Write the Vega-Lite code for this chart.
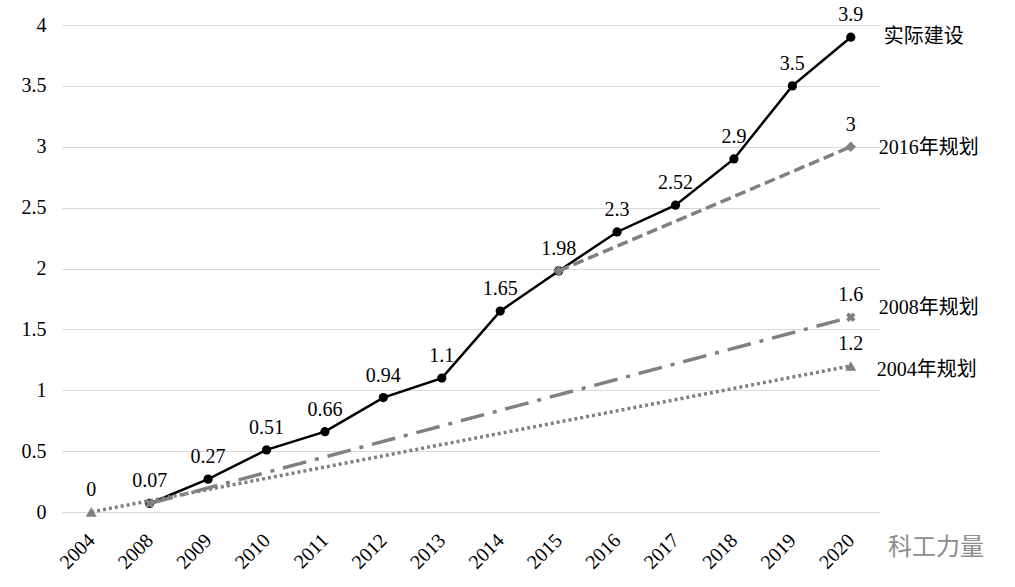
{
  "$schema": "https://vega.github.io/schema/vega-lite/v6.json",
  "autosize": {"type": "none"},
  "padding": {"left": 62, "top": 25, "right": 135, "bottom": 75},
  "width": 818,
  "height": 487,
  "background": "#ffffff",
  "config": {
    "view": {"stroke": null},
    "font": "Liberation Serif",
    "axis": {"labelFont": "Liberation Serif", "labelFontSize": 20, "labelColor": "#000000"}
  },
  "title": {
    "text": "科工力量",
    "orient": "bottom",
    "anchor": "end",
    "frame": "group",
    "dx": 104,
    "offset": -36,
    "font": "Noto Sans CJK SC",
    "fontSize": 24,
    "fontWeight": "normal",
    "color": "#8c8c8c"
  },
  "datasets": {
    "actual": [
      {"series": "实际建设", "year": "2008", "value": 0.07},
      {"series": "实际建设", "year": "2009", "value": 0.27},
      {"series": "实际建设", "year": "2010", "value": 0.51},
      {"series": "实际建设", "year": "2011", "value": 0.66},
      {"series": "实际建设", "year": "2012", "value": 0.94},
      {"series": "实际建设", "year": "2013", "value": 1.1},
      {"series": "实际建设", "year": "2014", "value": 1.65},
      {"series": "实际建设", "year": "2015", "value": 1.98},
      {"series": "实际建设", "year": "2016", "value": 2.3},
      {"series": "实际建设", "year": "2017", "value": 2.52},
      {"series": "实际建设", "year": "2018", "value": 2.9},
      {"series": "实际建设", "year": "2019", "value": 3.5},
      {"series": "实际建设", "year": "2020", "value": 3.9}
    ],
    "plans": [
      {"series": "2016年规划", "year": "2015", "value": 1.98},
      {"series": "2016年规划", "year": "2020", "value": 3},
      {"series": "2008年规划", "year": "2008", "value": 0.07},
      {"series": "2008年规划", "year": "2020", "value": 1.6},
      {"series": "2004年规划", "year": "2004", "value": 0},
      {"series": "2004年规划", "year": "2020", "value": 1.2}
    ]
  },
  "encoding": {
    "x": {
      "field": "year",
      "type": "ordinal",
      "sort": ["2004","2008","2009","2010","2011","2012","2013","2014","2015","2016","2017","2018","2019","2020"],
      "scale": {"type": "point", "padding": 0.5, "domain": ["2004","2008","2009","2010","2011","2012","2013","2014","2015","2016","2017","2018","2019","2020"]},
      "axis": {
        "title": null,
        "domain": false,
        "ticks": false,
        "grid": false,
        "labelAngle": -45,
        "labelAlign": "right",
        "labelBaseline": "middle",
        "labelPadding": 25
      }
    },
    "y": {
      "field": "value",
      "type": "quantitative",
      "scale": {"domain": [0, 4], "nice": false, "zero": true},
      "axis": {
        "title": null,
        "values": [0, 0.5, 1, 1.5, 2, 2.5, 3, 3.5, 4],
        "format": ".1~f",
        "domain": false,
        "ticks": false,
        "grid": true,
        "gridColor": "#d9d9d9",
        "gridWidth": 1,
        "labelPadding": 16
      }
    }
  },
  "layer": [
    {
      "data": {"name": "actual"},
      "mark": {"type": "line", "color": "#000000", "strokeWidth": 2.5}
    },
    {
      "data": {"name": "actual"},
      "mark": {"type": "point", "filled": true, "shape": "circle", "color": "#000000", "size": 85, "opacity": 1}
    },
    {
      "data": {"name": "plans"},
      "mark": {"type": "line", "color": "#808080", "strokeWidth": 3.5},
      "encoding": {
        "detail": {"field": "series"},
        "strokeDash": {
          "field": "series",
          "type": "nominal",
          "scale": {"domain": ["2016年规划", "2008年规划", "2004年规划"], "range": [[11, 5], [24, 9, 4, 9], [3, 3]]},
          "legend": null
        }
      }
    },
    {
      "data": {"name": "plans"},
      "transform": [{"filter": "datum.series == '2016年规划'"}],
      "mark": {"type": "point", "filled": true, "shape": "diamond", "color": "#808080", "size": 110, "opacity": 1}
    },
    {
      "data": {"name": "plans"},
      "transform": [{"filter": "datum.series == '2008年规划'"}],
      "mark": {"type": "point", "filled": true, "shape": "cross", "angle": 45, "color": "#808080", "size": 90, "opacity": 1}
    },
    {
      "data": {"name": "plans"},
      "transform": [{"filter": "datum.series == '2004年规划'"}],
      "mark": {"type": "point", "filled": true, "shape": "triangle-up", "color": "#808080", "size": 120, "opacity": 1}
    },
    {
      "data": {"name": "actual"},
      "mark": {"type": "text", "fontSize": 20, "font": "Liberation Serif", "color": "#000000", "baseline": "middle", "dy": -22},
      "encoding": {"text": {"field": "value", "type": "quantitative"}}
    },
    {
      "data": {"name": "plans"},
      "transform": [{"filter": "datum.year == '2020' || datum.series == '2004年规划'"}],
      "mark": {"type": "text", "fontSize": 20, "font": "Liberation Serif", "color": "#000000", "baseline": "middle", "dy": -22},
      "encoding": {"text": {"field": "value", "type": "quantitative"}}
    },
    {
      "data": {"name": "actual"},
      "transform": [{"filter": "datum.year == '2020'"}],
      "mark": {"type": "text", "fontSize": 20, "font": "Liberation Serif, Noto Sans CJK SC", "color": "#000000", "align": "left", "baseline": "middle", "dx": 33},
      "encoding": {"text": {"field": "series"}}
    },
    {
      "data": {"name": "plans"},
      "transform": [{"filter": "datum.year == '2020' && datum.series == '2016年规划'"}],
      "mark": {"type": "text", "fontSize": 20, "font": "Liberation Serif, Noto Sans CJK SC", "color": "#000000", "align": "left", "baseline": "middle", "dx": 28, "dy": 1},
      "encoding": {"text": {"field": "series"}}
    },
    {
      "data": {"name": "plans"},
      "transform": [{"filter": "datum.year == '2020' && datum.series == '2008年规划'"}],
      "mark": {"type": "text", "fontSize": 20, "font": "Liberation Serif, Noto Sans CJK SC", "color": "#000000", "align": "left", "baseline": "middle", "dx": 28, "dy": -9},
      "encoding": {"text": {"field": "series"}}
    },
    {
      "data": {"name": "plans"},
      "transform": [{"filter": "datum.year == '2020' && datum.series == '2004年规划'"}],
      "mark": {"type": "text", "fontSize": 20, "font": "Liberation Serif, Noto Sans CJK SC", "color": "#000000", "align": "left", "baseline": "middle", "dx": 26, "dy": 4},
      "encoding": {"text": {"field": "series"}}
    }
  ]
}
